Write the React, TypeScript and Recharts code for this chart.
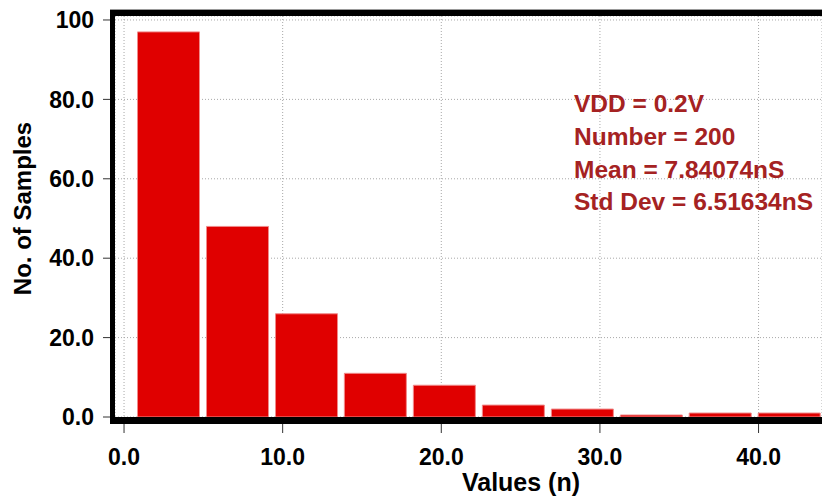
import React from "react";
import { BarChart, Bar, XAxis, YAxis, CartesianGrid } from "recharts";

// Histogram bin centres (Values, n) and sample counts
const binCenters = [2.83, 7.18, 11.53, 15.87, 20.22, 24.57, 28.92, 33.27, 37.61, 41.96];
const counts = [97, 48, 26, 11, 8, 3, 2, 0, 1, 1];
const xTicks = [0, 10, 20, 30, 40];
const yTicks = [0, 20, 40, 60, 80, 100];
const statLines = ["VDD = 0.2V", "Number = 200", "Mean = 7.84074nS", "Std Dev = 6.51634nS"];

const data = binCenters.map((x, i) => ({ x, count: counts[i] }));

const FONT = "'Liberation Sans', Arial, Helvetica, sans-serif";

export default function App() {
  return (
    <div style={{ position: "absolute", left: 0, top: 0, width: 822, height: 504, background: "#fff", overflow: "hidden" }}>
      <BarChart width={822} height={504} data={data} margin={{ top: 16, right: 0, bottom: 0, left: 0 }}>
        <CartesianGrid stroke="#a8a8a8" strokeDasharray="1 2" />
        <XAxis
          type="number"
          dataKey="x"
          domain={[-0.57, 44.0]}
          ticks={xTicks}
          allowDataOverflow
          height={87}
          axisLine={false}
          tickLine={{ stroke: "#333", strokeWidth: 1 }}
          tickSize={16}
          tickMargin={16}
          tickFormatter={(v: number) => v.toFixed(1)}
          tick={{ fill: "#000", fontFamily: FONT, fontWeight: "bold", fontSize: 23 }}
          label={{
            content: (p: any) => (
              <text
                x={p.viewBox.x + 406}
                y={p.viewBox.y + 74}
                textAnchor="middle"
                fill="#000"
                fontFamily={FONT}
                fontWeight="bold"
                fontSize={25}
              >
                Values (n)
              </text>
            ),
          }}
        />
        <YAxis
          type="number"
          domain={[0, 101]}
          ticks={yTicks}
          allowDataOverflow
          width={115}
          axisLine={false}
          tickLine={{ stroke: "#333", strokeWidth: 1 }}
          tickSize={12}
          tickMargin={9}
          tickFormatter={(v: number) => (v === 100 ? "100" : v.toFixed(1))}
          tick={{ fill: "#000", fontFamily: FONT, fontWeight: "bold", fontSize: 23 }}
          label={{
            content: (p: any) => {
              const cx = p.viewBox.x + 31;
              const cy = p.viewBox.y + p.viewBox.height / 2 - 8;
              return (
                <text
                  x={cx}
                  y={cy}
                  transform={`rotate(-90 ${cx} ${cy})`}
                  textAnchor="middle"
                  fill="#000"
                  fontFamily={FONT}
                  fontWeight="bold"
                  fontSize={24}
                >
                  No. of Samples
                </text>
              );
            },
          }}
        />
        <Bar
          dataKey="count"
          fill="#e00000"
          stroke="#f08a8a"
          strokeWidth={1}
          barSize={62}
          minPointSize={2}
          isAnimationActive={false}
        />
      </BarChart>
      {/* plot frame */}
      <div
        style={{
          position: "absolute",
          left: 110,
          top: 10,
          width: 712,
          height: 414,
          boxSizing: "border-box",
          borderLeft: "5px solid #000",
          borderTop: "6px solid #000",
          borderBottom: "7px solid #000",
          boxShadow: "0 -1px 0 #999",
          pointerEvents: "none",
        }}
      />
      {/* statistics annotation */}
      <svg width={822} height={504} style={{ position: "absolute", left: 0, top: 0, pointerEvents: "none" }}>
        {statLines.map((t, i) => (
          <text
            key={t}
            x={574}
            y={112 + i * 32.8}
            fill="#a52222"
            fontFamily={FONT}
            fontWeight="bold"
            fontSize={24.5}
          >
            {t}
          </text>
        ))}
      </svg>
    </div>
  );
}
